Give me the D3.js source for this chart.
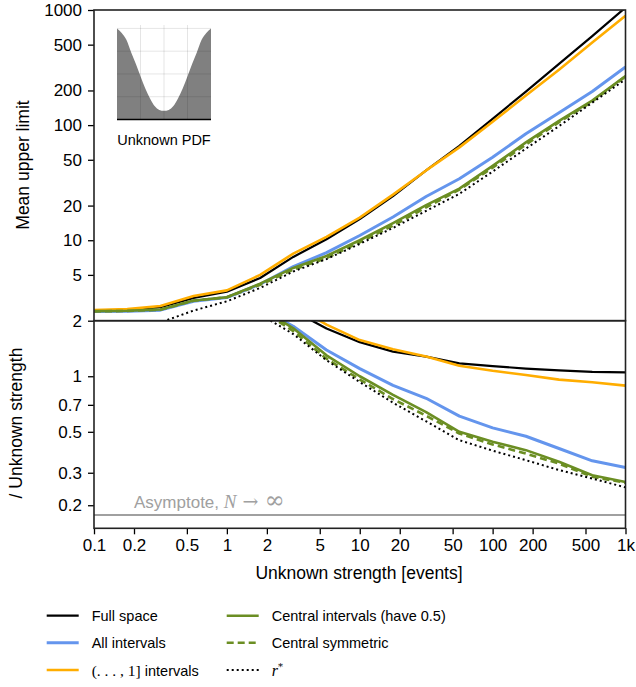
<!DOCTYPE html>
<html>
<head>
<meta charset="utf-8">
<script src="https://cdn.jsdelivr.net/npm/d3@7/dist/d3.min.js"></script>
<style>
  html, body { margin: 0; padding: 0; background: #fff; }
  svg { display: block; }
  text { font-family: "Liberation Sans", Arial, sans-serif; }
</style>
</head>
<body>
<script>
// ---------- DATA ----------
const strengths = [0.1, 0.178, 0.316, 0.562, 1, 1.78, 3.16, 5.62, 10, 17.8, 31.6, 56.2, 100, 178, 316, 562, 1000];
const fullSpace    = [2.45, 2.47, 2.62, 3.15, 3.57, 4.7, 7.16, 10.2, 15.3, 24.2, 40.4, 66.0, 113.5, 195.8, 340, 593, 1050];
const allIntervals = [2.40, 2.42, 2.47, 2.95, 3.18, 4.15, 5.9, 7.8, 11.0, 15.9, 24.0, 34.2, 52.5, 84.2, 128.3, 195.6, 320];
const upToOne      = [2.47, 2.52, 2.68, 3.28, 3.67, 5.0, 7.66, 10.7, 15.7, 24.9, 40.4, 64.1, 107, 180.7, 303, 521, 890];
const centralHalf  = [2.42, 2.44, 2.5, 3.0, 3.2, 4.2, 5.75, 7.3, 10.0, 14.1, 20.2, 28.1, 44.2, 70.8, 108.7, 163.5, 267];
const centralSym   = [2.41, 2.43, 2.49, 2.98, 3.2, 4.1, 5.55, 7.0, 9.6, 13.4, 19.3, 27.5, 42.7, 67.8, 106.2, 160.2, 265];
const rStar        = [1.5, 1.7, 1.93, 2.45, 2.95, 3.85, 5.35, 6.86, 9.3, 12.8, 18.0, 25.3, 39.5, 62.5, 98, 156.8, 250];
const asymptote = 0.177;

const xTicks = [0.1, 0.2, 0.5, 1, 2, 5, 10, 20, 50, 100, 200, 500, 1000];
const topTicks = [2, 5, 10, 20, 50, 100, 200, 500, 1000];
const bottomTicks = [0.2, 0.3, 0.5, 0.7, 1];

// inset PDF
const pdfT = [0, .05, .1, .15, .2, .25, .3, .35, .4, .45, .5, .55, .6, .65, .7, .75, .8, .85, .9, .95, 1];
const pdfV = [4.0, 3.8, 3.5, 2.95, 2.45, 1.9, 1.37, 0.93, 0.59, 0.42, 0.38, 0.42, 0.59, 0.93, 1.37, 1.9, 2.45, 2.95, 3.5, 3.8, 4.0];

const series = [
  { name: "Full space", values: fullSpace, color: "#000000", width: 2.2, dash: null },
  { name: "All intervals", values: allIntervals, color: "#6495ed", width: 3, dash: null },
  { name: "(…,1] intervals", values: upToOne, color: "#ffad00", width: 2.6, dash: null },
  { name: "Central intervals (have 0.5)", values: centralHalf, color: "#6b8e23", width: 2.6, dash: null },
  { name: "Central symmetric", values: centralSym, color: "#6b8e23", width: 2.6, dash: "7,4" },
  { name: "r*", values: rStar, color: "#000000", width: 2, dash: "2,3" }
];

// ---------- LAYOUT ----------
const W = 636, H = 687;
const L = 94, R = 625.5, T = 10, M = 320.7, B = 528.3;

const svg = d3.select("body").append("svg").attr("width", W).attr("height", H);

const x = d3.scaleLog().domain([0.1, 1000]).range([L, R]);
const yTop = d3.scaleLog().domain([2, 1000]).range([M, T]);
const yBot = d3.scaleLog().domain([0.15, 2]).range([B, M]);

const defs = svg.append("defs");
defs.append("clipPath").attr("id", "clipTop").append("rect")
  .attr("x", L).attr("y", T).attr("width", R - L).attr("height", M - T);
defs.append("clipPath").attr("id", "clipBot").append("rect")
  .attr("x", L).attr("y", M).attr("width", R - L).attr("height", B - M);

// ---------- INSET ----------
const ix = d3.scaleLinear().domain([0, 1]).range([117, 211]);
const iy = d3.scaleLinear().domain([0, 4.15]).range([119.5, 25]);
const inset = svg.append("g");
inset.append("path")
  .datum(pdfT.map((t, i) => [t, pdfV[i]]))
  .attr("d", d3.area().x(d => ix(d[0])).y0(iy(0)).y1(d => iy(d[1])).curve(d3.curveMonotoneX))
  .attr("fill", "#808080");
[0.25, 0.5, 0.75].forEach(t => {
  inset.append("line").attr("x1", ix(t)).attr("x2", ix(t)).attr("y1", iy(4.15)).attr("y2", iy(0))
    .attr("stroke", "#000").attr("stroke-opacity", 0.1).attr("stroke-width", 1);
});
[1, 2, 3, 4].forEach(v => {
  inset.append("line").attr("x1", ix(0)).attr("x2", ix(1)).attr("y1", iy(v)).attr("y2", iy(v))
    .attr("stroke", "#000").attr("stroke-opacity", 0.1).attr("stroke-width", 1);
});
inset.append("line").attr("x1", ix(0)).attr("x2", ix(1)).attr("y1", iy(0)).attr("y2", iy(0))
  .attr("stroke", "#000").attr("stroke-width", 1.6);
inset.append("text").attr("x", ix(0.5)).attr("y", 145).attr("text-anchor", "middle")
  .attr("font-size", "14.5px").text("Unknown PDF");

// ---------- ASYMPTOTE ----------
svg.append("line").attr("x1", L).attr("x2", R).attr("y1", yBot(asymptote)).attr("y2", yBot(asymptote))
  .attr("stroke", "#a0a0a0").attr("stroke-width", 2);
const at = svg.append("text").attr("x", 134).attr("y", 508).attr("font-size", "17px").attr("fill", "#a0a0a0");
at.append("tspan").text("Asymptote, ");
at.append("tspan").attr("font-family", "'Liberation Serif', 'DejaVu Serif', serif").attr("font-style", "italic").attr("font-size", "19px").text("N");
at.append("tspan").attr("font-family", "'DejaVu Serif', serif").attr("font-size", "19px").text(" → ");
at.append("tspan").attr("font-family", "'DejaVu Serif', serif").attr("font-size", "24px").text("∞");

// ---------- LINES ----------
const gTop = svg.append("g").attr("clip-path", "url(#clipTop)");
const gBot = svg.append("g").attr("clip-path", "url(#clipBot)");
const lineTop = d3.line().x(d => x(d[0])).y(d => yTop(d[1]));
const lineBot = d3.line().x(d => x(d[0])).y(d => yBot(d[1] / d[0]));
series.forEach(s => {
  const pts = strengths.map((v, i) => [v, s.values[i]]);
  [[gTop, lineTop], [gBot, lineBot]].forEach(([g, ln]) => {
    g.append("path").datum(pts).attr("d", ln)
      .attr("fill", "none").attr("stroke", s.color).attr("stroke-width", s.width)
      .attr("stroke-dasharray", s.dash).attr("stroke-linejoin", "round");
  });
});

// ---------- AXES ----------
const fmtX = d => d >= 1000 ? "1k" : String(d);
const axX = svg.append("g").attr("transform", `translate(0,${B})`)
  .call(d3.axisBottom(x).tickValues(xTicks).tickFormat(fmtX).tickSize(6).tickPadding(5));
const axTop = svg.append("g").attr("transform", `translate(${L},0)`)
  .call(d3.axisLeft(yTop).tickValues(topTicks).tickFormat(d => String(d)).tickSize(6).tickPadding(6));
const axBot = svg.append("g").attr("transform", `translate(${L},0)`)
  .call(d3.axisLeft(yBot).tickValues(bottomTicks).tickFormat(d => String(d)).tickSize(6).tickPadding(6));
[axX, axTop, axBot].forEach(a => {
  a.select(".domain").remove();
  a.selectAll(".tick line").attr("stroke", "#000").attr("stroke-width", 1.3);
  a.selectAll(".tick text").attr("font-size", "17px").attr("fill", "#000")
    .attr("font-family", "'Liberation Sans', Arial, sans-serif");
});

// frames
[[T, M], [M, B]].forEach(([a, b]) => {
  svg.append("rect").attr("x", L).attr("y", a).attr("width", R - L).attr("height", b - a)
    .attr("fill", "none").attr("stroke", "#222").attr("stroke-width", 1.6);
});

// axis titles
svg.append("text").attr("transform", `translate(29,165) rotate(-90)`).attr("text-anchor", "middle")
  .attr("font-size", "17.5px").text("Mean upper limit");
svg.append("text").attr("transform", `translate(22,423) rotate(-90)`).attr("text-anchor", "middle")
  .attr("font-size", "17.5px").text("/ Unknown strength");
svg.append("text").attr("x", 359).attr("y", 579).attr("text-anchor", "middle")
  .attr("font-size", "17.5px").text("Unknown strength [events]");

// ---------- LEGEND ----------
const legendPos = [
  [46.7, 615.7], [46.7, 642.7], [46.7, 670],
  [226.7, 615.7], [226.7, 642.7], [226.7, 670]
];
series.forEach((s, i) => {
  const [lx, ly] = legendPos[i];
  svg.append("line").attr("x1", lx).attr("x2", lx + 32).attr("y1", ly).attr("y2", ly)
    .attr("stroke", s.color).attr("stroke-width", s.width).attr("stroke-dasharray", s.dash);
  const t = svg.append("text").attr("x", lx + 45).attr("y", ly + 5.5).attr("font-size", "14.5px");
  if (s.name === "(…,1] intervals") {
    t.append("tspan").attr("font-family", "'Liberation Serif', 'DejaVu Serif', serif").attr("font-size", "15.5px").text("(. . . , 1]");
    t.append("tspan").text(" intervals");
  } else if (s.name === "r*") {
    t.append("tspan").attr("font-family", "'Liberation Serif', 'DejaVu Serif', serif").attr("font-style", "italic").attr("font-size", "16px").text("r");
    t.append("tspan").attr("font-family", "'DejaVu Serif', serif").attr("font-size", "10px").attr("dy", -6).text("*");
  } else {
    t.text(s.name);
  }
});
</script>
</body>
</html>
